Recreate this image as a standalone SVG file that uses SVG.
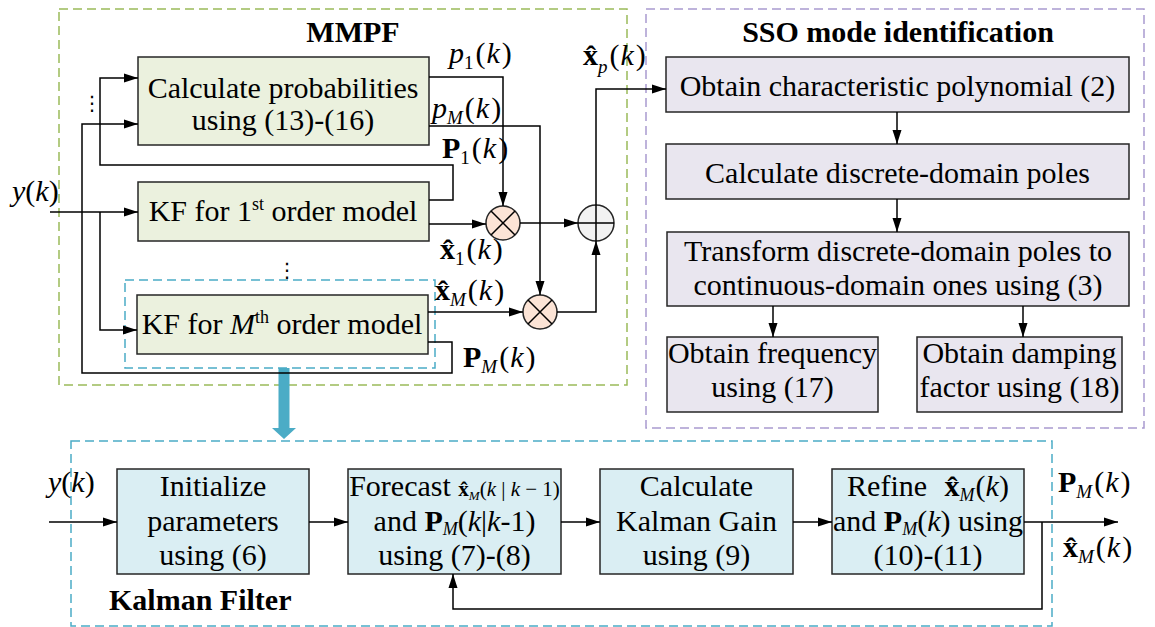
<svg xmlns="http://www.w3.org/2000/svg" width="1155" height="627" viewBox="0 0 1155 627">
<style>
.box{stroke:#262626;stroke-width:1.5}
.g{fill:#EBF1DE}
.p{fill:#E9E6EF}
.b{fill:#DAEEF3}
.t{font-family:"Liberation Serif","Times New Roman",serif;font-size:30px;fill:#000}
.c{text-anchor:middle}
.bd{font-weight:bold}
.i{font-style:italic}
.ln{fill:none;stroke:#000;stroke-width:1.5}
.dg{fill:none;stroke:#9BBB59;stroke-width:1.5;stroke-dasharray:9 5}
.dp{fill:none;stroke:#A99BCF;stroke-width:1.5;stroke-dasharray:9 5}
.db{fill:none;stroke:#4BACC6;stroke-width:1.5;stroke-dasharray:9 5}
.dots{font-family:"DejaVu Sans",sans-serif;font-size:20px;fill:#000}
</style>
<defs>
<marker id="a" markerUnits="userSpaceOnUse" markerWidth="14" markerHeight="10" refX="14" refY="5" orient="auto">
<path d="M0,0.5 L14,5 L0,9.5 z" fill="#000"/>
</marker>
</defs>

<!-- dashed containers -->
<g id="mmpf-frame">
<rect class="dg" x="59" y="9" width="568" height="376"/>
<text class="t c bd" x="353" y="42">MMPF</text>
</g>
<g id="sso-frame">
<rect class="dp" x="646" y="9" width="498" height="419"/>
<text class="t c bd" x="898" y="42">SSO mode identification</text>
</g>
<g id="kf-frame">
<rect class="db" x="71" y="441" width="981" height="185"/>
<text class="t bd" x="109" y="610">Kalman Filter</text>
</g>

<!-- MMPF nodes -->
<g id="calc-prob">
<rect class="box g" x="138" y="57" width="291" height="88"/>
<text class="t c" x="283" y="98">Calculate probabilities</text>
<text class="t c" x="283" y="130">using (13)-(16)</text>
</g>
<g id="kf1">
<rect class="box g" x="138" y="182" width="291" height="59"/>
<text class="t c" x="283" y="221">KF for 1<tspan font-size="18" dy="-11">st</tspan><tspan dy="11"> order model</tspan></text>
</g>
<g id="kfM-frame">
<rect class="db" x="125" y="280" width="310" height="88"/>
</g>
<g id="kfM">
<rect class="box g" x="137" y="295" width="291" height="59"/>
<text class="t c" x="282" y="334">KF for <tspan class="i">M</tspan><tspan font-size="18" dy="-11">th</tspan><tspan dy="11"> order model</tspan></text>
</g>
<g id="mult1">
<circle cx="503" cy="223" r="17" fill="#FCE4D6" stroke="#262626" stroke-width="1.5"/>
<path class="ln" d="M491,211 L515,235 M515,211 L491,235"/>
</g>
<g id="mult2">
<circle cx="540" cy="312" r="17" fill="#FCE4D6" stroke="#262626" stroke-width="1.5"/>
<path class="ln" d="M528,300 L552,324 M552,300 L528,324"/>
</g>
<g id="sum">
<circle cx="596" cy="223" r="18" fill="#F2F2F2" stroke="#262626" stroke-width="1.5"/>
<path class="ln" d="M578,223 H614 M596,205 V241"/>
</g>
<g id="dots">
<text class="dots c" x="92" y="110">⋮</text>
<text class="dots c" x="287" y="277">⋮</text>
</g>

<!-- SSO nodes -->
<g id="sso1">
<rect class="box p" x="666" y="57" width="463" height="55"/>
<text class="t c" x="897.5" y="96">Obtain characteristic polynomial (2)</text>
</g>
<g id="sso2">
<rect class="box p" x="666" y="144" width="463" height="55"/>
<text class="t c" x="897.5" y="183">Calculate discrete-domain poles</text>
</g>
<g id="sso3">
<rect class="box p" x="667" y="232" width="462" height="74"/>
<text class="t c" x="898" y="261">Transform discrete-domain poles to</text>
<text class="t c" x="898" y="295">continuous-domain ones using (3)</text>
</g>
<g id="sso4">
<rect class="box p" x="667" y="337" width="211" height="75"/>
<text class="t c" x="772.5" y="363">Obtain frequency</text>
<text class="t c" x="772.5" y="397">using (17)</text>
</g>
<g id="sso5">
<rect class="box p" x="917" y="337" width="205" height="75"/>
<text class="t c" x="1019.5" y="363">Obtain damping</text>
<text class="t c" x="1019.5" y="397">factor using (18)</text>
</g>

<!-- Kalman filter nodes -->
<g id="kf-init">
<rect class="box b" x="117" y="469" width="192" height="105"/>
<text class="t c" x="213" y="496">Initialize</text>
<text class="t c" x="213" y="531">parameters</text>
<text class="t c" x="213" y="565">using (6)</text>
</g>
<g id="kf-forecast">
<rect class="box b" x="348" y="469" width="213" height="105"/>
<text class="t c" x="454.5" y="496">Forecast <tspan class="bd" font-size="21">x̂</tspan><tspan class="i" font-size="13" dy="4">M</tspan><tspan font-size="21" dy="-4">(</tspan><tspan class="i" font-size="21">k</tspan><tspan font-size="21"> | </tspan><tspan class="i" font-size="21">k</tspan><tspan font-size="21"> − 1)</tspan></text>
<text class="t c" x="454.5" y="531">and <tspan class="bd">P</tspan><tspan class="i" font-size="18" dy="4">M</tspan><tspan dy="-4">(</tspan><tspan class="i">k</tspan>|<tspan class="i">k</tspan>-1)</text>
<text class="t c" x="454.5" y="565">using (7)-(8)</text>
</g>
<g id="kf-gain">
<rect class="box b" x="600" y="469" width="193" height="105"/>
<text class="t c" x="696.5" y="496">Calculate</text>
<text class="t c" x="696.5" y="531">Kalman Gain</text>
<text class="t c" x="696.5" y="565">using (9)</text>
</g>
<g id="kf-refine">
<rect class="box b" x="832" y="469" width="192" height="105"/>
<text class="t c" x="928" y="496">Refine <tspan class="bd" dx="10">x̂</tspan><tspan class="i" font-size="18" dy="5">M</tspan><tspan dy="-5" dx="1">(</tspan><tspan class="i">k</tspan>)</text>
<text class="t c" x="928" y="531">and <tspan class="bd">P</tspan><tspan class="i" font-size="18" dy="4">M</tspan><tspan dy="-4">(</tspan><tspan class="i">k</tspan>) using</text>
<text class="t c" x="928" y="565">(10)-(11)</text>
</g>

<!-- big transfer arrow -->
<g id="zoom-arrow">
<path d="M278.5,368 H289.5 V428 H296 L284,439 L272,428 H278.5 Z" fill="#4BACC6"/>
</g>

<!-- connectors -->
<g id="connectors">
<path class="ln" marker-end="url(#a)" d="M50,212 H138"/>
<path class="ln" marker-end="url(#a)" d="M100,212 V330 H137"/>
<path class="ln" marker-end="url(#a)" d="M429,200 H453 V165 H100 V78 H138"/>
<path class="ln" marker-end="url(#a)" d="M428,342 H452 V373 H82 V124 H138"/>
<path class="ln" marker-end="url(#a)" d="M429,77 H503 V206"/>
<path class="ln" marker-end="url(#a)" d="M429,126 H540 V295"/>
<path class="ln" marker-end="url(#a)" d="M429,224 H486"/>
<path class="ln" marker-end="url(#a)" d="M520,223 H578"/>
<path class="ln" marker-end="url(#a)" d="M428,312 H523"/>
<path class="ln" marker-end="url(#a)" d="M557,312 H596 V241"/>
<path class="ln" marker-end="url(#a)" d="M596,205 V89 H666"/>
<path class="ln" marker-end="url(#a)" d="M897,112 V144"/>
<path class="ln" marker-end="url(#a)" d="M897,199 V232"/>
<path class="ln" marker-end="url(#a)" d="M773,306 V337"/>
<path class="ln" marker-end="url(#a)" d="M1023,306 V337"/>
<path class="ln" marker-end="url(#a)" d="M49,522 H117"/>
<path class="ln" marker-end="url(#a)" d="M309,522 H348"/>
<path class="ln" marker-end="url(#a)" d="M561,522 H600"/>
<path class="ln" marker-end="url(#a)" d="M793,522 H832"/>
<path class="ln" marker-end="url(#a)" d="M1024,522 H1118"/>
<path class="ln" marker-end="url(#a)" d="M1042,522 V609 H453 V574"/>
</g>

<!-- connector labels -->
<g id="labels">
<text class="t" x="12" y="201"><tspan class="i">y</tspan>(<tspan class="i">k</tspan>)</text>
<text class="t" x="449" y="63"><tspan class="i">p</tspan><tspan font-size="19" dy="6">1</tspan><tspan dy="-6" dx="2">(</tspan><tspan class="i" dx="1">k</tspan><tspan dx="2">)</tspan></text>
<text class="t" x="432" y="118"><tspan class="i">p</tspan><tspan class="i" font-size="19" dy="6">M</tspan><tspan dy="-6" dx="2">(</tspan><tspan class="i" dx="1">k</tspan><tspan dx="2">)</tspan></text>
<text class="t" x="442" y="158"><tspan class="bd">P</tspan><tspan font-size="19" dy="6">1</tspan><tspan dy="-6" dx="2">(</tspan><tspan class="i" dx="1">k</tspan><tspan dx="2">)</tspan></text>
<text class="t" x="583" y="65"><tspan class="bd">x̂</tspan><tspan class="i" font-size="19" dy="8">p</tspan><tspan dy="-8" dx="2">(</tspan><tspan class="i" dx="1">k</tspan><tspan dx="2">)</tspan></text>
<text class="t" x="440" y="259"><tspan class="bd">x̂</tspan><tspan font-size="19" dy="6">1</tspan><tspan dy="-6" dx="2">(</tspan><tspan class="i" dx="1">k</tspan><tspan dx="2">)</tspan></text>
<text class="t" x="435" y="300"><tspan class="bd">x̂</tspan><tspan class="i" font-size="19" dy="6">M</tspan><tspan dy="-6" dx="2">(</tspan><tspan class="i" dx="1">k</tspan><tspan dx="2">)</tspan></text>
<text class="t" x="463" y="367"><tspan class="bd">P</tspan><tspan class="i" font-size="19" dy="6">M</tspan><tspan dy="-6" dx="2">(</tspan><tspan class="i" dx="1">k</tspan><tspan dx="2">)</tspan></text>
<text class="t" x="48" y="492"><tspan class="i">y</tspan>(<tspan class="i">k</tspan>)</text>
<text class="t" x="1058" y="492"><tspan class="bd">P</tspan><tspan class="i" font-size="19" dy="6">M</tspan><tspan dy="-6" dx="2">(</tspan><tspan class="i" dx="1">k</tspan><tspan dx="2">)</tspan></text>
<text class="t" x="1063" y="557"><tspan class="bd">x̂</tspan><tspan class="i" font-size="19" dy="6">M</tspan><tspan dy="-6" dx="2">(</tspan><tspan class="i" dx="1">k</tspan><tspan dx="2">)</tspan></text>
</g>
</svg>
